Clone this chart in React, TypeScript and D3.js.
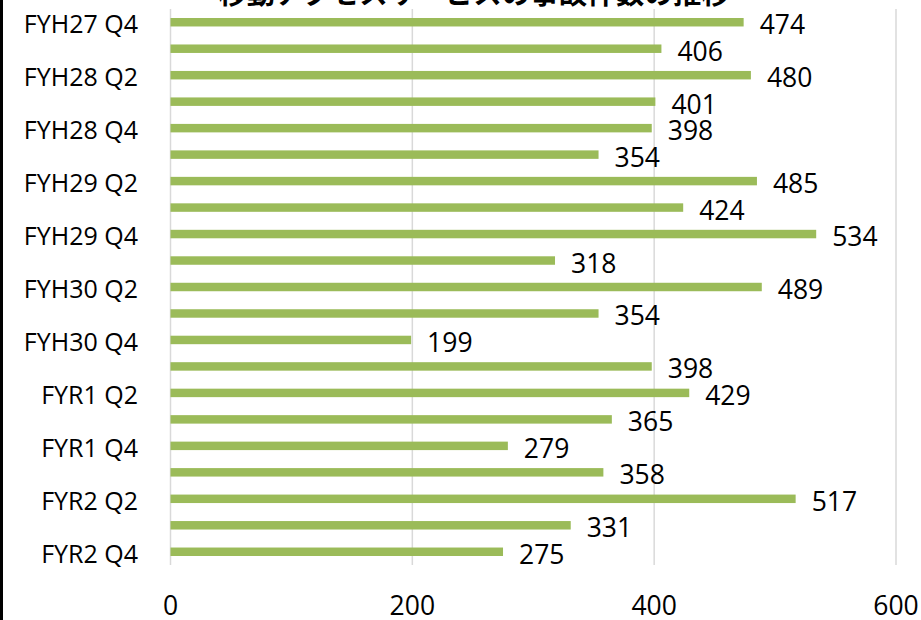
import React from "react";
import * as d3 from "d3";

const categories = [
  "FYH27 Q4", "FYH28 Q1", "FYH28 Q2", "FYH28 Q3", "FYH28 Q4",
  "FYH29 Q1", "FYH29 Q2", "FYH29 Q3", "FYH29 Q4",
  "FYH30 Q1", "FYH30 Q2", "FYH30 Q3", "FYH30 Q4",
  "FYR1 Q1", "FYR1 Q2", "FYR1 Q3", "FYR1 Q4",
  "FYR2 Q1", "FYR2 Q2", "FYR2 Q3", "FYR2 Q4",
];
const values = [474, 406, 480, 401, 398, 354, 485, 424, 534, 318, 489, 354, 199, 398, 429, 365, 279, 358, 517, 331, 275];
const xTicks = [0, 200, 400, 600];
const title = "移動アクセスサービスの事故件数の推移";

const W = 921;
const H = 620;
const font = "'Open Sans', 'Liberation Sans', sans-serif";

export default function App() {
  const x = d3.scaleLinear().domain([0, 600]).range([170.5, 896]);
  const y = d3.scaleBand<string>().domain(categories).range([9, 565]).paddingInner(0.68).paddingOuter(0.34);
  const bw = y.bandwidth();
  return (
    <svg width={W} height={H} style={{ position: "absolute", left: 0, top: 0 }}>
      <rect x={0} y={0} width={W} height={H} fill="#fff" />
      {xTicks.map((t) => (
        <line key={t} x1={x(t)} x2={x(t)} y1={9} y2={565} stroke="#d9d9d9" strokeWidth={1.5} />
      ))}
      {categories.map((c, i) => (
        <rect key={c} x={x(0)} y={y(c)!} width={x(values[i]) - x(0)} height={bw} fill="#9bbb59" />
      ))}
      {categories.map((c, i) => (
        <text key={"v" + c} x={x(values[i]) + 16} y={y(c)! + bw / 2 + 2} dominantBaseline="central"
          fontFamily={font} fontSize={26.5} fill="#000">{values[i]}</text>
      ))}
      {categories.map((c, i) =>
        i % 2 === 0 ? (
          <text key={"c" + c} x={138} y={y(c)! + bw / 2 + 1} dominantBaseline="central" textAnchor="end"
            fontFamily={font} fontSize={25} fill="#000">{c}</text>
        ) : null
      )}
      {xTicks.map((t) => (
        <text key={"t" + t} x={x(t)} y={605} dominantBaseline="central" textAnchor="middle"
          fontFamily={font} fontSize={26.5} fill="#000">{t}</text>
      ))}
      <text x={474} y={4} textAnchor="middle" fontFamily="'Noto Sans CJK JP', sans-serif" fontWeight="bold"
        fontSize={28.5} fill="#000">{title}</text>
      <rect x={0} y={0} width={3} height={H} fill="#000" />
    </svg>
  );
}
